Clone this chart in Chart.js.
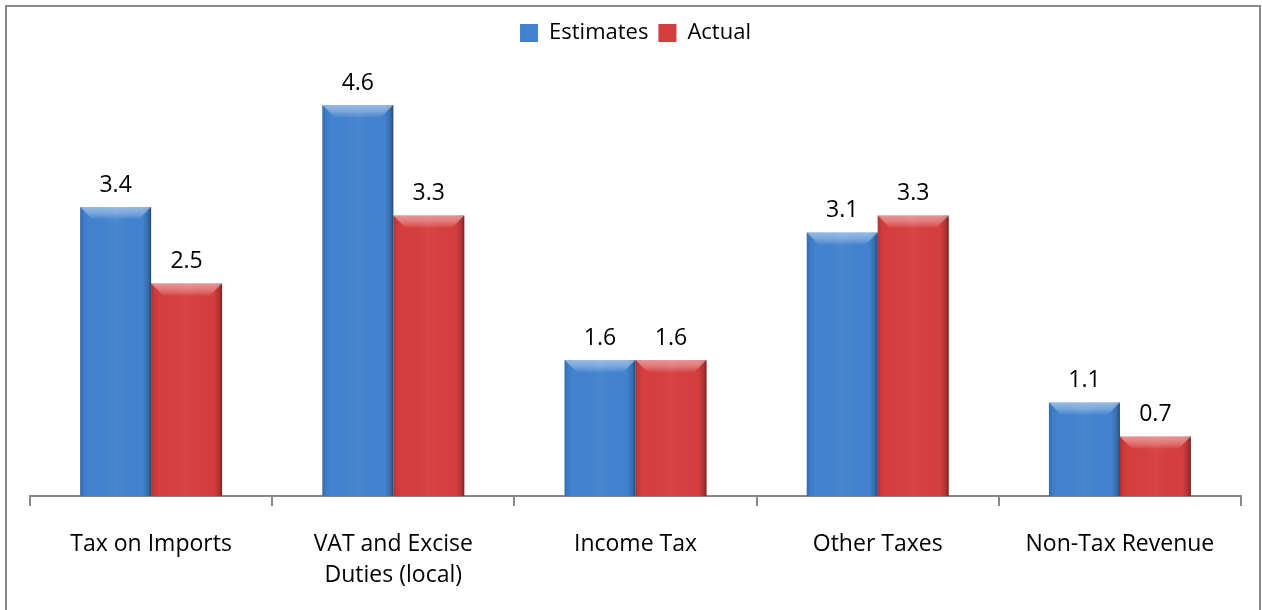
<!DOCTYPE html>
<html>
<head>
<meta charset="utf-8">
<script src="https://cdn.jsdelivr.net/npm/chart.js@4.4.1/dist/chart.umd.min.js"></script>
<style>
  html, body { margin: 0; padding: 0; background: #ffffff; }
  #wrap { position: relative; width: 1262px; height: 610px; }
</style>
</head>
<body>
<div id="wrap"><canvas id="c" width="1262" height="610"></canvas></div>
<script>
const categories = [["Tax on Imports"], ["VAT and Excise", "Duties (local)"], ["Income Tax"], ["Other Taxes"], ["Non-Tax Revenue"]];
const seriesNames = ["Estimates", "Actual"];
const estimates = [3.4, 4.6, 1.6, 3.1, 1.1];
const actual = [2.5, 3.3, 1.6, 3.3, 0.7];

const FONT = "'Open Sans', 'DejaVu Sans', sans-serif";

const framePlugin = {
  id: 'frame',
  afterDraw(chart) {
    const ctx = chart.ctx;
    ctx.save();
    ctx.strokeStyle = '#8a8a8a';
    ctx.lineWidth = 2;
    ctx.beginPath();
    ctx.moveTo(6, chart.height);
    ctx.lineTo(6, 6);
    ctx.lineTo(1260, 6);
    ctx.lineTo(1260, chart.height);
    ctx.stroke();
    ctx.restore();
  }
};

const bevelPlugin = {
  id: 'bevel',
  afterDatasetsDraw(chart) {
    const ctx = chart.ctx;
    chart.data.datasets.forEach((ds, di) => {
      const meta = chart.getDatasetMeta(di);
      meta.data.forEach((bar) => {
        const p = bar.getProps(['x', 'y', 'width', 'base'], true);
        const l = p.x - p.width / 2, r = p.x + p.width / 2;
        const t = p.y, b = p.base;
        ctx.save();
        const g = ctx.createLinearGradient(l, 0, r, 0);
        g.addColorStop(0, 'rgba(0,0,0,0.18)');
        g.addColorStop(0.05, 'rgba(0,0,0,0.05)');
        g.addColorStop(0.12, 'rgba(0,0,0,0.0)');
        g.addColorStop(0.5, 'rgba(255,255,255,0.04)');
        g.addColorStop(0.88, 'rgba(0,0,0,0.0)');
        g.addColorStop(0.96, 'rgba(0,0,0,0.18)');
        g.addColorStop(1, 'rgba(0,0,0,0.45)');
        ctx.fillStyle = g;
        ctx.fillRect(l, t, r - l, b - t);
        const bh = Math.min(12, (b - t) / 2);
        const tg = ctx.createLinearGradient(0, t, 0, t + bh);
        tg.addColorStop(0, 'rgba(255,255,255,0.45)');
        tg.addColorStop(0.5, 'rgba(255,255,255,0.3)');
        tg.addColorStop(1, 'rgba(255,255,255,0.05)');
        ctx.fillStyle = tg;
        ctx.beginPath();
        ctx.moveTo(l, t);
        ctx.lineTo(r, t);
        ctx.lineTo(r - bh, t + bh);
        ctx.lineTo(l + bh, t + bh);
        ctx.closePath();
        ctx.fill();
        ctx.restore();
      });
    });
  }
};

const labelPlugin = {
  id: 'valueLabels',
  afterDatasetsDraw(chart) {
    const ctx = chart.ctx;
    ctx.save();
    ctx.font = "23px " + FONT;
    ctx.fillStyle = '#000';
    ctx.textAlign = 'center';
    ctx.textBaseline = 'middle';
    chart.data.datasets.forEach((ds, di) => {
      const meta = chart.getDatasetMeta(di);
      meta.data.forEach((bar, i) => {
        const p = bar.getProps(['x', 'y'], true);
        ctx.fillText(ds.data[i].toFixed(1), p.x, p.y - 22);
      });
    });
    ctx.restore();
  }
};

new Chart(document.getElementById('c'), {
  type: 'bar',
  data: {
    labels: categories,
    datasets: [
      { label: seriesNames[0], data: estimates, backgroundColor: '#4282cf', borderWidth: 0,
        categoryPercentage: 0.586, barPercentage: 1.0 },
      { label: seriesNames[1], data: actual, backgroundColor: '#d63e3e', borderWidth: 0,
        categoryPercentage: 0.586, barPercentage: 1.0 }
    ]
  },
  options: {
    responsive: false,
    animation: false,
    layout: { padding: { top: 12, left: 30, right: 21, bottom: 0 } },
    plugins: {
      legend: {
        display: true,
        position: 'top',
        labels: {
          font: { family: FONT, size: 22 },
          color: '#000',
          boxWidth: 18,
          boxHeight: 18,
          padding: 10
        }
      },
      tooltip: { enabled: false }
    },
    scales: {
      x: {
        grid: { display: true, drawOnChartArea: false, drawTicks: true, tickLength: 10, color: '#888', lineWidth: 2, offset: true },
        border: { display: true, color: '#888', width: 2 },
        ticks: { font: { family: FONT, size: 23, lineHeight: '31px' }, color: '#000', padding: 23, maxRotation: 0, autoSkip: false },
        afterFit: (scale) => { scale.height = 114; }
      },
      y: {
        display: false,
        min: 0,
        max: 5.2
      }
    }
  },
  plugins: [framePlugin, bevelPlugin, labelPlugin]
});
</script>
</body>
</html>
